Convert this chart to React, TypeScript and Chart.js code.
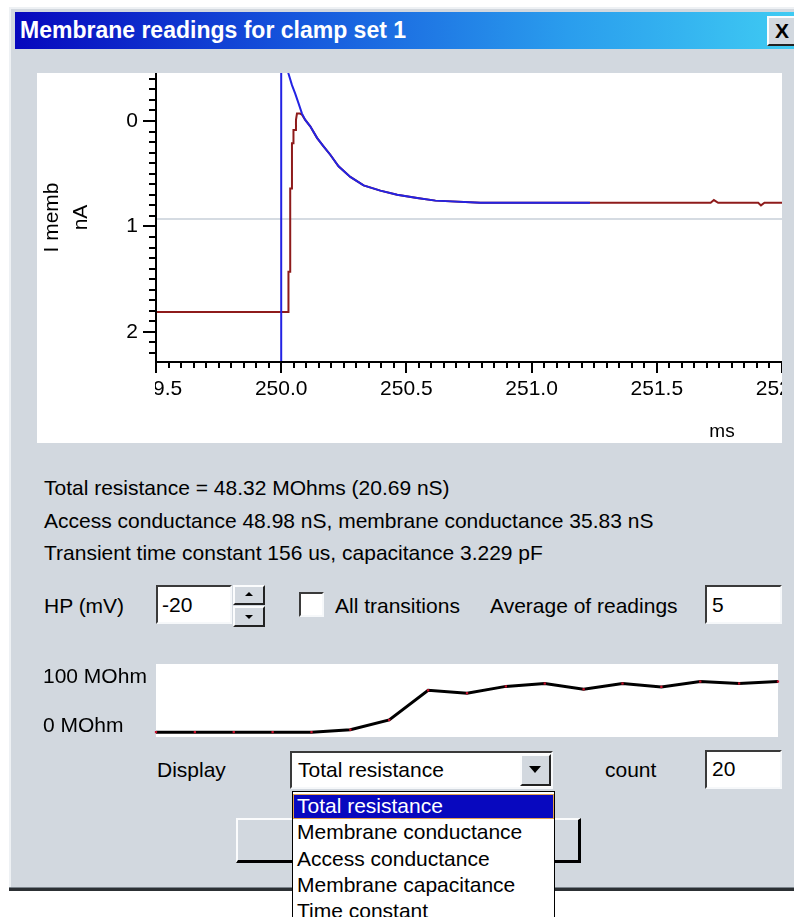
import React, { useEffect, useRef } from 'react';
import { Chart, registerables } from 'chart.js';

Chart.register(...registerables);

const FONT = '"Liberation Sans", Arial, sans-serif';
const BODY = '#d2d8df';

// ---------- Top chart: membrane current vs time ----------
const xRange = [249.5, 252.0];
const yRange = [-0.455, 2.285];
const xMajorTicks = [249.5, 250.0, 250.5, 251.0, 251.5, 252.0];
const xMinorStep = 0.05;
const yMajorTicks = [0, 1, 2];
const yMinorStep = 0.1;
const xTitle = 'ms';
const yTitle = ['I memb', 'nA'];

const cursorTime = [250.0];
const baselineCurrent = [0.93];

const redTime = [
  249.5, 250.029, 250.029, 250.036, 250.036, 250.043, 250.043, 250.049, 250.049,
  250.059, 250.059, 250.063, 250.075, 250.083, 250.096, 250.116, 250.143, 250.169,
  250.196, 250.229, 250.276, 250.329, 250.396, 250.463, 250.543, 250.616, 250.796,
  251.0, 251.233, 251.5, 251.715, 251.728, 251.745, 251.905, 251.916, 251.93, 252.0,
];
const redCurrent = [
  1.81, 1.81, 1.43, 1.43, 0.64, 0.64, 0.21, 0.21, 0.085,
  0.085, -0.01, -0.07, -0.07, -0.06, -0.01, 0.05, 0.16, 0.24,
  0.32, 0.43, 0.53, 0.61, 0.66, 0.70, 0.73, 0.755, 0.775,
  0.775, 0.775, 0.775, 0.775, 0.75, 0.775, 0.775, 0.80, 0.775, 0.775,
];

const blueTime = [
  250.015, 250.029, 250.043, 250.056, 250.069, 250.083, 250.096, 250.116, 250.143,
  250.169, 250.196, 250.229, 250.276, 250.329, 250.396, 250.463, 250.543, 250.616,
  250.796, 251.0, 251.233,
];
const blueCurrent = [
  -0.58, -0.45, -0.34, -0.26, -0.17, -0.07, -0.01, 0.05, 0.16,
  0.24, 0.32, 0.43, 0.53, 0.61, 0.66, 0.70, 0.73, 0.755,
  0.775, 0.775, 0.775,
];

// ---------- Lower chart: total resistance history ----------
const readingIndex = [1, 2, 3, 4, 5, 6, 7, 8, 9, 10, 11, 12, 13, 14, 15, 16, 17];
const totalResistance = [-12, -12, -12, -12, -12, -7, 13, 74, 68, 82, 88, 76, 88, 81, 92, 88, 92];
const resistanceRange = [-22, 128];
const resistanceTicks = [0, 100];
const resistanceUnit = 'MOhm';

// ---------- Dialog texts ----------
const titleText = 'Membrane readings for clamp set 1';
const infoLines = [
  'Total resistance = 48.32 MOhms (20.69 nS)',
  'Access conductance 48.98 nS, membrane conductance 35.83 nS',
  'Transient time constant 156 us, capacitance 3.229 pF',
];
const displayOptions = [
  'Total resistance',
  'Membrane conductance',
  'Access conductance',
  'Membrane capacitance',
  'Time constant',
];

const CANVAS_FONT = '21px "Liberation Sans", Arial, sans-serif';

const topAxesPlugin = {
  id: 'topAxes',
  afterDraw(chart: any) {
    const { ctx, chartArea: a } = chart;
    const xs = chart.scales.x;
    const ys = chart.scales.y;
    ctx.save();
    ctx.strokeStyle = '#000';
    ctx.lineWidth = 2;
    ctx.beginPath();
    ctx.moveTo(a.left, a.top);
    ctx.lineTo(a.left, a.bottom + 1);
    ctx.moveTo(a.left - 1, a.bottom);
    ctx.lineTo(a.right, a.bottom);
    // y ticks
    const y0 = Math.ceil(yRange[0] / yMinorStep - 1e-9);
    const y1 = Math.floor(yRange[1] / yMinorStep + 1e-9);
    for (let i = y0; i <= y1; i++) {
      const v = i * yMinorStep;
      const major = yMajorTicks.some((m) => Math.abs(m - v) < 1e-6);
      const py = Math.round(ys.getPixelForValue(v));
      ctx.moveTo(a.left - (major ? 13 : 7), py);
      ctx.lineTo(a.left, py);
    }
    // x ticks
    const x0 = Math.ceil(xRange[0] / xMinorStep - 1e-9);
    const x1 = Math.floor(xRange[1] / xMinorStep + 1e-9);
    for (let i = x0; i <= x1; i++) {
      const v = i * xMinorStep;
      const major = xMajorTicks.some((m) => Math.abs(m - v) < 1e-6);
      const px = Math.round(xs.getPixelForValue(v));
      ctx.moveTo(px, a.bottom);
      ctx.lineTo(px, a.bottom + (major ? 11 : 6));
    }
    ctx.stroke();

    ctx.fillStyle = '#000';
    ctx.font = CANVAS_FONT;
    ctx.textBaseline = 'middle';
    ctx.textAlign = 'right';
    yMajorTicks.forEach((v) => {
      ctx.fillText(String(v), a.left - 18, ys.getPixelForValue(v));
    });

    ctx.save();
    ctx.beginPath();
    ctx.rect(a.left - 1, a.bottom, chart.width - a.left + 1, chart.height - a.bottom);
    ctx.clip();
    ctx.textAlign = 'center';
    xMajorTicks.forEach((v) => {
      ctx.fillText(v.toFixed(1), xs.getPixelForValue(v), a.bottom + 27);
    });
    ctx.restore();

    ctx.textAlign = 'center';
    ctx.font = '19px "Liberation Sans", Arial, sans-serif';
    ctx.fillText(xTitle, a.right - 60, a.bottom + 70);

    ctx.font = CANVAS_FONT;
    const cy = (a.top + a.bottom) / 2;
    [15, 44].forEach((cx, k) => {
      ctx.save();
      ctx.translate(cx, cy);
      ctx.rotate(-Math.PI / 2);
      ctx.fillText(yTitle[k], 0, 0);
      ctx.restore();
    });
    ctx.restore();
  },
};

function TopChart() {
  const ref = useRef<HTMLCanvasElement>(null);
  useEffect(() => {
    const chart = new Chart(ref.current as HTMLCanvasElement, {
      type: 'scatter',
      data: {
        datasets: [
          {
            data: [
              { x: cursorTime[0], y: yRange[0] },
              { x: cursorTime[0], y: yRange[1] },
            ],
            borderColor: '#2323e4',
            borderWidth: 2,
            showLine: true,
            pointRadius: 0,
            order: 1,
          },
          {
            data: blueTime.map((t, i) => ({ x: t, y: blueCurrent[i] })),
            borderColor: '#2323e4',
            borderWidth: 2,
            showLine: true,
            pointRadius: 0,
            order: 2,
          },
          {
            data: redTime.map((t, i) => ({ x: t, y: redCurrent[i] })),
            borderColor: '#8e1b1b',
            borderWidth: 2,
            showLine: true,
            pointRadius: 0,
            order: 3,
          },
          {
            data: [
              { x: xRange[0], y: baselineCurrent[0] },
              { x: xRange[1], y: baselineCurrent[0] },
            ],
            borderColor: '#c7cfd9',
            borderWidth: 1.5,
            showLine: true,
            pointRadius: 0,
            order: 4,
          },
        ],
      },
      options: {
        animation: false,
        responsive: false,
        devicePixelRatio: 1,
        layout: { padding: { left: 119, top: 0, right: 0, bottom: 81 } },
        plugins: { legend: { display: false }, tooltip: { enabled: false } },
        scales: {
          x: { type: 'linear', display: false, min: xRange[0], max: xRange[1] },
          y: { type: 'linear', display: false, min: yRange[0], max: yRange[1], reverse: true },
        },
      },
      plugins: [topAxesPlugin],
    } as any);
    return () => chart.destroy();
  }, []);
  return (
    <canvas
      ref={ref}
      width={745}
      height={370}
      style={{ position: 'absolute', left: 37, top: 73, width: 745, height: 370, background: '#fff' }}
    />
  );
}

const lowerPlugin = {
  id: 'lowerPanel',
  beforeDraw(chart: any) {
    const { ctx, chartArea: a } = chart;
    ctx.save();
    ctx.fillStyle = '#fff';
    ctx.fillRect(a.left, a.top, a.right - a.left, a.bottom - a.top);
    ctx.restore();
  },
  afterDraw(chart: any) {
    const { ctx } = chart;
    const ys = chart.scales.y;
    ctx.save();
    ctx.fillStyle = '#000';
    ctx.font = CANVAS_FONT;
    ctx.textAlign = 'left';
    ctx.textBaseline = 'middle';
    resistanceTicks.forEach((v) => {
      ctx.fillText(`${v} ${resistanceUnit}`, 3, ys.getPixelForValue(v));
    });
    ctx.restore();
  },
};

function LowerChart() {
  const ref = useRef<HTMLCanvasElement>(null);
  useEffect(() => {
    const chart = new Chart(ref.current as HTMLCanvasElement, {
      type: 'line',
      data: {
        labels: readingIndex,
        datasets: [
          {
            data: totalResistance,
            borderColor: '#000',
            borderWidth: 3,
            tension: 0,
            pointStyle: 'rect',
            pointRadius: 1.6,
            pointBorderWidth: 0,
            pointBackgroundColor: '#c8102a',
          },
        ],
      },
      options: {
        animation: false,
        responsive: false,
        devicePixelRatio: 1,
        layout: { padding: { left: 116, top: 0, right: 0, bottom: 0 } },
        plugins: { legend: { display: false }, tooltip: { enabled: false } },
        scales: {
          x: { type: 'category', display: false, offset: false },
          y: { type: 'linear', display: false, min: resistanceRange[0], max: resistanceRange[1] },
        },
      },
      plugins: [lowerPlugin],
    } as any);
    return () => chart.destroy();
  }, []);
  return (
    <canvas
      ref={ref}
      width={742}
      height={81}
      style={{ position: 'absolute', left: 40, top: 660, width: 742, height: 81 }}
    />
  );
}

const abs = (x: number, y: number, w: number, h: number, extra: any = {}) => ({
  position: 'absolute' as const,
  left: x,
  top: y,
  width: w,
  height: h,
  boxSizing: 'border-box' as const,
  ...extra,
});

const sunken = (x: number, y: number, w: number, h: number) =>
  abs(x, y, w, h, {
    background: '#fff',
    borderTop: '2px solid #3a3a3a',
    borderLeft: '2px solid #3a3a3a',
    borderRight: '2px solid #f6f8fa',
    borderBottom: '2px solid #f6f8fa',
  });

const raised = (x: number, y: number, w: number, h: number) =>
  abs(x, y, w, h, {
    background: BODY,
    borderTop: '2px solid #fbfcfd',
    borderLeft: '2px solid #fbfcfd',
    borderRight: '2px solid #222',
    borderBottom: '2px solid #222',
  });

function Text({ x, cy, children, style }: any) {
  return (
    <div
      style={{
        position: 'absolute',
        left: x,
        top: cy - 13,
        height: 26,
        lineHeight: '26px',
        fontSize: 21,
        whiteSpace: 'nowrap',
        color: '#000',
        ...style,
      }}
    >
      {children}
    </div>
  );
}

export default function App() {
  return (
    <div
      style={{
        position: 'absolute',
        left: 0,
        top: 0,
        width: 794,
        height: 917,
        overflow: 'hidden',
        background: '#fff',
        fontFamily: FONT,
      }}
    >
      {/* dialog frame */}
      <div style={abs(9, 7, 800, 880, { background: BODY, borderTop: '2px solid #eef1f4', borderLeft: '2px solid #eef1f4' })} />
      <div style={abs(9, 887, 800, 1, { background: '#7c848c' })} />
      <div style={abs(9, 888, 800, 3, { background: '#2c3034' })} />

      {/* title bar */}
      <div
        style={abs(15, 12, 790, 37, {
          background: 'linear-gradient(to right, #0707bd 0%, #1555dc 35%, #2a9ded 70%, #40cdf3 100%)',
        })}
      />
      <Text x={20} cy={30} style={{ color: '#fff', fontWeight: 'bold', fontSize: 23 }}>
        {titleText}
      </Text>
      <div style={raised(767, 16, 40, 30)} />
      <Text x={775} cy={31} style={{ fontWeight: 'bold', fontSize: 21 }}>
        X
      </Text>

      <TopChart />

      {infoLines.map((t, i) => (
        <Text key={i} x={44} cy={[488, 521, 553][i]}>
          {t}
        </Text>
      ))}

      {/* HP row */}
      <Text x={44} cy={606}>HP (mV)</Text>
      <div style={sunken(156, 585, 76, 39)} />
      <Text x={162} cy={605}>-20</Text>
      <div style={raised(233, 585, 32, 20)} />
      <div style={abs(245, 592, 0, 0, { borderLeft: '4px solid transparent', borderRight: '4px solid transparent', borderBottom: '4px solid #000' })} />
      <div style={raised(233, 606, 32, 21)} />
      <div style={abs(245, 615, 0, 0, { borderLeft: '4px solid transparent', borderRight: '4px solid transparent', borderTop: '4px solid #000' })} />
      <div style={sunken(299, 592, 25, 25)} />
      <Text x={335} cy={606}>All transitions</Text>
      <Text x={490} cy={606}>Average of readings</Text>
      <div style={sunken(705, 585, 77, 39)} />
      <Text x={712} cy={605}>5</Text>

      <LowerChart />

      {/* Display row */}
      <Text x={157} cy={770}>Display</Text>
      <div style={sunken(290, 751, 263, 38)} />
      <Text x={298} cy={770}>{displayOptions[0]}</Text>
      <div style={raised(520, 754, 31, 32)} />
      <div style={abs(529, 766, 0, 0, { borderLeft: '6px solid transparent', borderRight: '6px solid transparent', borderTop: '7px solid #000' })} />
      <Text x={605} cy={770}>count</Text>
      <div style={sunken(705, 750, 77, 39)} />
      <Text x={712} cy={769}>20</Text>

      {/* button behind the dropdown */}
      <div
        style={abs(236, 818, 345, 45, {
          background: BODY,
          borderTop: '2px solid #fbfcfd',
          borderLeft: '2px solid #fbfcfd',
          borderRight: '3px solid #000',
          borderBottom: '3px solid #000',
        })}
      />

      {/* dropdown list */}
      <div style={abs(292, 791, 263, 140, { background: '#fff', border: '1px solid #000' })} />
      <div style={abs(293, 794, 261, 25, { background: '#0808bf', border: '1px solid #e2a050' })} />
      {displayOptions.map((t, i) => (
        <Text key={t} x={297} cy={806 + i * 26.3} style={i === 0 ? { color: '#fff' } : {}}>
          {t}
        </Text>
      ))}
    </div>
  );
}
